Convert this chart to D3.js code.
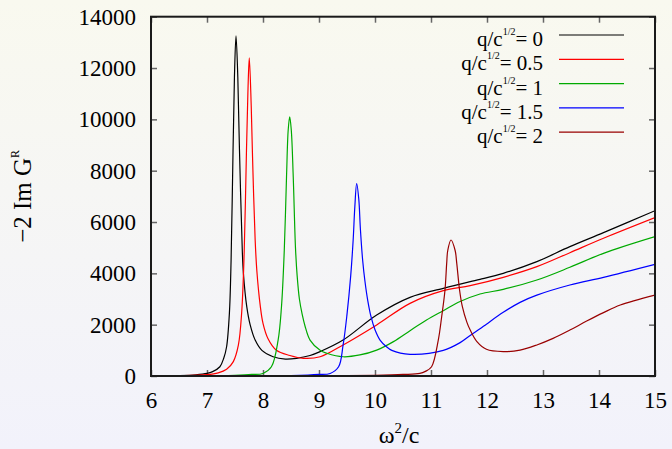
<!DOCTYPE html>
<html>
<head>
<meta charset="utf-8">
<script src="https://cdn.jsdelivr.net/npm/d3@7"></script>
<style>
  body { margin: 0; }
  svg { display: block; font-family: 'Liberation Serif', 'DejaVu Serif', serif; }
</style>
</head>
<body>
<div class="chart"></div>
<script>
// values, one x/y pair of arrays per curve
const xTicks = [6, 7, 8, 9, 10, 11, 12, 13, 14, 15];
const yTicks = [0, 2000, 4000, 6000, 8000, 10000, 12000, 14000];
const legendLabels = ['0', '0.5', '1', '1.5', '2'];
const colors = ['#000000', '#ff0000', '#00aa00', '#0000ff', '#990000'];

const q0X = [6, 6.5, 6.8, 7.0, 7.1, 7.23, 7.3, 7.35, 7.40, 7.43, 7.465, 7.49, 7.518, 7.55, 7.58, 7.63, 7.65, 7.71, 7.77, 7.86, 7.98, 8.18, 8.4, 8.6, 8.84, 9.02, 9.43, 10.03, 10.625, 11.22, 11.7, 11.875, 12.29, 12.89, 13.48, 14.08, 15];
const q0Y = [0, 15, 45, 100, 170, 360, 700, 1140, 2450, 4500, 8800, 11660, 13250, 11660, 8800, 4900, 4000, 2700, 2000, 1400, 1000, 750, 660, 690, 800, 950, 1400, 2375, 3065, 3415, 3675, 3765, 4000, 4455, 5040, 5585, 6440];

const q05X = [6, 6.5, 7.0, 7.2, 7.35, 7.47, 7.56, 7.62, 7.665, 7.705, 7.73, 7.755, 7.79, 7.82, 7.86, 7.89, 7.95, 8.0, 8.09, 8.24, 8.48, 8.72, 9.02, 9.43, 10.03, 10.625, 11.22, 11.7, 12.29, 12.89, 13.48, 14.08, 15];
const q05Y = [0, 10, 50, 120, 260, 560, 1200, 2500, 4900, 8800, 11015, 12400, 10500, 8000, 5300, 4100, 2750, 2050, 1450, 1000, 800, 690, 750, 1210, 1990, 2830, 3325, 3520, 3845, 4260, 4805, 5365, 6170];

const q1X = [6, 7, 7.5, 7.8, 8.0, 8.15, 8.27, 8.33, 8.38, 8.42, 8.45, 8.477, 8.505, 8.54, 8.58, 8.61, 8.65, 8.70, 8.75, 8.84, 9.02, 9.14, 9.43, 9.73, 10.03, 10.33, 10.625, 10.92, 11.22, 11.52, 11.875, 12.29, 12.89, 13.48, 14.08, 15];
const q1Y = [0, 5, 30, 60, 100, 360, 1400, 2700, 4900, 7765, 9585, 10100, 9585, 7765, 5000, 3900, 3000, 2400, 1950, 1400, 1000, 885, 750, 820, 1010, 1340, 1765, 2180, 2545, 2900, 3195, 3375, 3740, 4235, 4780, 5430];

const q15X = [6, 8, 8.5, 8.8, 9.0, 9.2, 9.35, 9.43, 9.5, 9.566, 9.61, 9.64, 9.673, 9.71, 9.74, 9.78, 9.82, 9.87, 9.93, 10.0, 10.09, 10.2, 10.3, 10.625, 11.22, 11.52, 11.7, 11.875, 11.99, 12.29, 12.59, 12.89, 13.48, 14.08, 15];
const q15Y = [0, 5, 15, 35, 60, 100, 360, 1200, 2400, 3900, 5300, 6600, 7500, 6900, 5700, 4500, 3700, 2950, 2300, 1800, 1400, 1150, 1000, 845, 1000, 1300, 1580, 1840, 2020, 2480, 2870, 3150, 3545, 3845, 4350];

const q2X = [6, 9, 10, 10.5, 10.8, 10.9, 11.01, 11.13, 11.19, 11.25, 11.28, 11.3, 11.357, 11.43, 11.46, 11.51, 11.56, 11.64, 11.7, 11.82, 11.99, 12.29, 12.59, 12.89, 13.18, 13.48, 13.78, 14.08, 14.38, 15];
const q2Y = [0, 5, 30, 60, 100, 180, 360, 1400, 2300, 3350, 4390, 4900, 5300, 4900, 4390, 3350, 2700, 2100, 1790, 1340, 1040, 950, 1010, 1210, 1465, 1790, 2140, 2470, 2765, 3155];

const seriesX = [q0X, q05X, q1X, q15X, q2X];
const seriesY = [q0Y, q05Y, q1Y, q15Y, q2Y];

const W = 672;
const H = 449;
const margin = { top: 16.7, right: 17, bottom: 73, left: 151 };
const width = W - margin.left - margin.right;
const height = H - margin.top - margin.bottom;

const svg = d3
  .select('.chart')
  .append('svg')
  .attr('width', W)
  .attr('height', H);

const grad = svg
  .append('defs')
  .append('linearGradient')
  .attr('id', 'bg')
  .attr('x1', 0)
  .attr('y1', 0)
  .attr('x2', 0)
  .attr('y2', 1);
grad.append('stop').attr('offset', '0%').attr('stop-color', '#f9f9ef');
grad.append('stop').attr('offset', '100%').attr('stop-color', '#f2f2fb');

svg.select('defs')
  .append('clipPath')
  .attr('id', 'clip')
  .append('rect')
  .attr('width', width)
  .attr('height', height);

svg.append('rect').attr('width', W).attr('height', H).attr('fill', 'url(#bg)');

const g = svg
  .append('g')
  .attr('transform', `translate(${margin.left},${margin.top})`);

const x = d3.scaleLinear().domain([6, 15]).range([0, width]);
const y = d3.scaleLinear().domain([0, 14000]).range([height, 0]);

const addAxis = (axis, transform, labels) => {
  const a = g.append('g').attr('transform', transform).call(axis);
  a.select('.domain').remove();
  a.selectAll('.tick line').attr('stroke', '#666').attr('stroke-width', 1.5);
  a.selectAll('.tick text')
    .attr('font-family', "'Liberation Serif', serif")
    .attr('font-size', 23)
    .attr('fill', '#000');
  if (!labels) a.selectAll('.tick text').remove();
  return a;
};

addAxis(
  d3.axisBottom(x).tickValues(xTicks).tickFormat(d3.format('d'))
    .tickSizeInner(-6).tickSizeOuter(0).tickPadding(16),
  `translate(0,${height})`,
  true
);
addAxis(
  d3.axisLeft(y).tickValues(yTicks).tickFormat(d3.format('d'))
    .tickSizeInner(-6).tickSizeOuter(0).tickPadding(15),
  'translate(0,0)',
  true
);
addAxis(d3.axisTop(x).tickValues(xTicks).tickSizeInner(-6).tickSizeOuter(0), 'translate(0,0)', false);
addAxis(d3.axisRight(y).tickValues(yTicks).tickSizeInner(-6).tickSizeOuter(0), `translate(${width},0)`, false);

const line = d3
  .line()
  .x((d) => x(d[0]))
  .y((d) => y(d[1]))
  .curve(d3.curveCatmullRom.alpha(0.5));

g.append('g')
  .attr('clip-path', 'url(#clip)')
  .selectAll('path')
  .data(seriesX.map((xs, i) => xs.map((v, j) => [v, seriesY[i][j]])))
  .enter()
  .append('path')
  .attr('d', line)
  .attr('fill', 'none')
  .attr('stroke', (d, i) => colors[i])
  .attr('stroke-width', 1.2);

// frame
g.append('rect')
  .attr('width', width)
  .attr('height', height)
  .attr('fill', 'none')
  .attr('stroke', '#1a1a1a')
  .attr('stroke-width', 2);

// legend
const legend = svg.append('g');
legendLabels.forEach((lab, i) => {
  const cy = 35 + i * 24.3;
  const t = legend
    .append('text')
    .attr('x', 543)
    .attr('y', cy + 11)
    .attr('text-anchor', 'end')
    .attr('font-size', 21);
  t.append('tspan').text('q/c');
  t.append('tspan').attr('dy', -11).attr('font-size', 10).text('1/2');
  t.append('tspan').attr('dy', 11).text('= ' + lab);
  legend
    .append('line')
    .attr('x1', 559)
    .attr('x2', 624)
    .attr('y1', cy)
    .attr('y2', cy)
    .attr('stroke', colors[i])
    .attr('stroke-width', 1.2);
});

// axis titles
const yTitle = svg
  .append('text')
  .attr('transform', `translate(31,${margin.top + height / 2}) rotate(-90)`)
  .attr('text-anchor', 'middle')
  .attr('font-size', 25);
yTitle.append('tspan').text('\u22122 Im G');
yTitle.append('tspan').attr('dy', -12).attr('font-size', 12).text('R');

const xTitle = svg
  .append('text')
  .attr('x', 399)
  .attr('y', 443)
  .attr('text-anchor', 'middle')
  .attr('font-size', 24);
xTitle.append('tspan').text('\u03c9');
xTitle.append('tspan').attr('dy', -10).attr('font-size', 15).text('2');
xTitle.append('tspan').attr('dy', 10).text('/c');
</script>
</body>
</html>
